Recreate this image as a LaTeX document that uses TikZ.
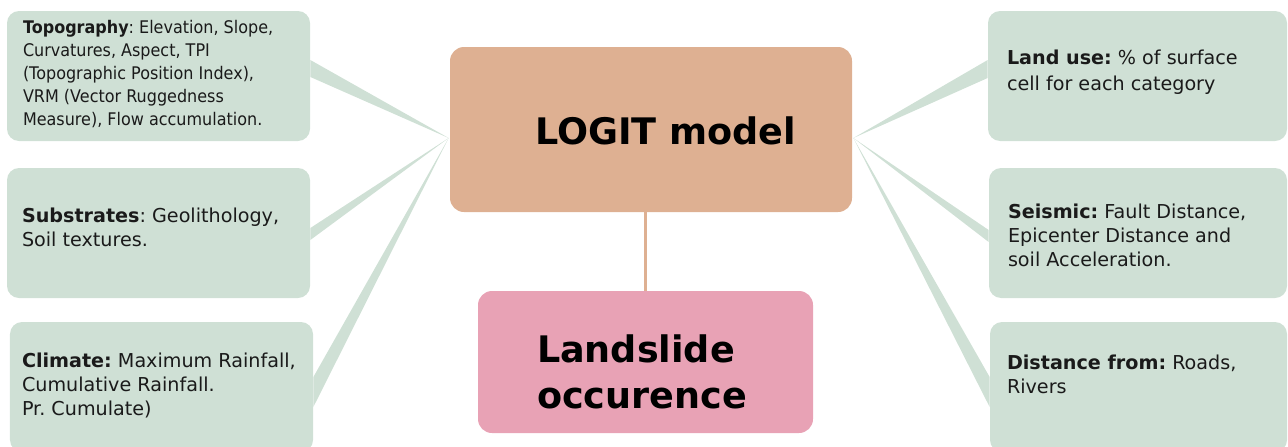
\documentclass[tikz,border=0pt]{standalone}
\usepackage{fontspec}
\setmainfont{DejaVu Sans}
\newfontfamily\narrowfont{DejaVu Sans}[FakeStretch=0.92]
\usetikzlibrary{positioning, backgrounds, calc}
\frenchspacing

\definecolor{factorgreen}{RGB}{207,224,213}
\definecolor{logittan}{RGB}{222,176,146}
\definecolor{slidepink}{RGB}{232,162,181}
\definecolor{inkgray}{RGB}{26,26,26}

\begin{document}
\begin{tikzpicture}[
    factor/.style={fill=factorgreen, rounded corners=0.24cm, minimum width=6.02cm, minimum height=2.6cm, inner sep=0pt},
    model/.style={fill=logittan, rounded corners=0.28cm, minimum width=8.04cm, minimum height=3.3cm, inner sep=0pt},
    outcome/.style={fill=slidepink, rounded corners=0.28cm, minimum width=6.7cm, minimum height=2.84cm, inner sep=0pt},
    txt/.style={inner sep=0pt, align=left, text=inkgray, font=\fontsize{10.9}{13.9}\selectfont},
    smalltxt/.style={txt, font=\narrowfont\fontsize{9.9}{13.05}\selectfont},
    bigtxt/.style={inner sep=0pt, align=left, font=\bfseries\fontsize{20.8}{26.5}\selectfont},
    spoke/.style={fill=factorgreen},
    link/.style={draw=logittan, line width=1.7pt}
]
    \useasboundingbox (0,0) rectangle (25.76,-8.92);

    % Central model and outcome
    \node[model] (logit) at (13.02,-2.59) {};
    \node[outcome] (slide) at (12.91,-7.24) {};
    \node[bigtxt, below right=1.40cm and 1.70cm of logit.north west] (logit-txt) {LOGIT model};
    \node[bigtxt, below right=0.87cm and 1.18cm of slide.north west] (slide-txt) {Landslide\\occurence};
    \draw[link] (slide.north) -- (slide.north |- logit.south);

    % Factor boxes, left column
    \node[factor, minimum width=6.06cm] (topo) at (3.17,-1.52) {};
    \node[factor, minimum width=6.06cm] (subs) at (3.17,-4.66) {};
    \node[factor, minimum width=6.06cm] (clim) at (3.23,-7.74) {};

    % Factor boxes, right column
    \node[factor, minimum width=5.98cm] (land) at (22.75,-1.52) {};
    \node[factor, minimum width=5.96cm] (seis) at (22.76,-4.66) {};
    \node[factor, minimum width=5.94cm] (dist) at (22.77,-7.74) {};

    % Box texts
    \node[smalltxt, below right=0.19cm and 0.32cm of topo.north west] (topo-txt)
        {\textbf{Topography}: Elevation, Slope,\\Curvatures, Aspect, TPI\\(Topographic Position Index),\\VRM (Vector Ruggedness\\Measure), Flow accumulation.};
    \node[txt, below right=0.79cm and 0.30cm of subs.north west] (subs-txt)
        {\textbf{Substrates}: Geolithology,\\Soil textures.};
    \node[txt, below right=0.61cm and 0.24cm of clim.north west] (clim-txt)
        {\textbf{Climate:} Maximum Rainfall,\\Cumulative Rainfall.\\Pr. Cumulate)};
    \node[txt, font=\fontsize{10.9}{14.9}\selectfont, below right=0.78cm and 0.38cm of land.north west] (land-txt)
        {\textbf{Land use:} \% of surface\\cell for each category};
    \node[txt, below right=0.71cm and 0.38cm of seis.north west] (seis-txt)
        {\textbf{Seismic:} Fault Distance,\\Epicenter Distance and\\soil Acceleration.};
    \node[txt, below right=0.65cm and 0.34cm of dist.north west] (dist-txt)
        {\textbf{Distance from:} Roads,\\Rivers};

    % Tapered spokes from the model to each factor
    \coordinate (hubL) at ($(logit.west)+(-0.02,-0.17)$);
    \coordinate (hubR) at ($(logit.east)+(0.02,-0.17)$);
    \begin{scope}[on background layer]
        \foreach \b/\t/\d in {topo/0.32/-0.02, subs/0.10/-0.14, clim/0.20/-0.40}
            \fill[spoke] (hubL) -- ($(\b.east)+(0,\t)$) -- ($(\b.east)+(0,\d)$) -- cycle;
        \foreach \b/\t/\d in {land/0.32/-0.04, seis/0.06/-0.18, dist/0.20/-0.40}
            \fill[spoke] (hubR) -- ($(\b.west)+(0,\t)$) -- ($(\b.west)+(0,\d)$) -- cycle;
    \end{scope}

\end{tikzpicture}
\end{document}
